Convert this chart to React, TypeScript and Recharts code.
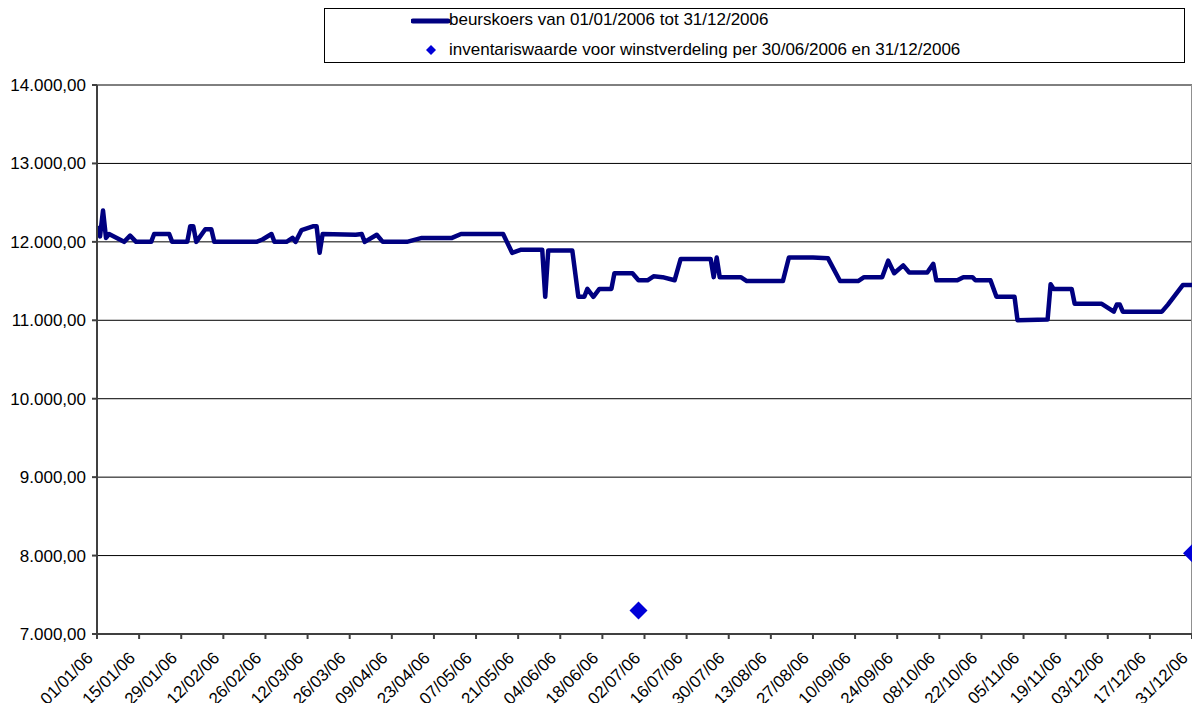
import React from "react";
import {
  CartesianGrid,
  ComposedChart,
  Legend,
  Line,
  ReferenceLine,
  Scatter,
  XAxis,
  YAxis,
} from "recharts";

// beurskoers (dd/mm of 2006)
const lineDates = [
  "01/01", "02/01", "03/01", "04/01", "05/01", "10/01", "12/01", "14/01", "19/01", "20/01",
  "25/01", "26/01", "31/01", "01/02", "02/02", "03/02", "06/02", "08/02", "09/02", "23/02",
  "25/02", "28/02", "01/03", "05/03", "07/03", "08/03", "10/03", "14/03", "15/03", "16/03",
  "17/03", "28/03", "30/03", "31/03", "04/04", "06/04", "14/04", "19/04", "29/04", "02/05",
  "16/05", "19/05", "22/05", "29/05", "30/05", "31/05", "08/06", "10/06", "12/06", "13/06",
  "15/06", "17/06", "21/06", "22/06", "28/06", "30/06", "03/07", "05/07", "08/07", "12/07",
  "14/07", "24/07", "25/07", "26/07", "27/07", "03/08", "05/08", "17/08", "19/08", "27/08",
  "01/09", "05/09", "11/09", "13/09", "19/09", "21/09", "23/09", "26/09", "28/09", "04/10",
  "06/10", "07/10", "14/10", "16/10", "19/10", "20/10", "25/10", "27/10", "02/11", "03/11",
  "13/11", "14/11", "15/11", "21/11", "22/11", "01/12", "05/12", "06/12", "07/12", "08/12",
  "21/12", "23/12", "28/12", "31/12",
];
const lineValues = [
  12200, 12070, 12400, 12050, 12100, 12000, 12080, 12000, 12000, 12100,
  12100, 12000, 12000, 12200, 12200, 12000, 12160, 12160, 12000, 12000,
  12030, 12100, 12000, 12000, 12050, 12000, 12150, 12200, 12200, 11860,
  12100, 12090, 12100, 12000, 12090, 12000, 12000, 12050, 12050, 12100,
  12100, 11860, 11900, 11900, 11300, 11890, 11890, 11300, 11300, 11400,
  11300, 11400, 11400, 11600, 11600, 11510, 11510, 11560, 11550, 11510,
  11780, 11780, 11550, 11800, 11550, 11550, 11500, 11500, 11800, 11800,
  11790, 11500, 11500, 11550, 11550, 11760, 11600, 11700, 11610, 11610,
  11720, 11510, 11510, 11550, 11550, 11510, 11510, 11300, 11300, 11000,
  11010, 11460, 11400, 11400, 11210, 11210, 11110, 11200, 11200, 11110,
  11110, 11200, 11450, 11450,
];

// inventariswaarde
const navDates = ["30/06", "31/12"];
const navValues = [7300, 8030];

const xTickLabels = [
  "01/01/06", "15/01/06", "29/01/06", "12/02/06", "26/02/06", "12/03/06", "26/03/06",
  "09/04/06", "23/04/06", "07/05/06", "21/05/06", "04/06/06", "18/06/06", "02/07/06",
  "16/07/06", "30/07/06", "13/08/06", "27/08/06", "10/09/06", "24/09/06", "08/10/06",
  "22/10/06", "05/11/06", "19/11/06", "03/12/06", "17/12/06", "31/12/06",
];
const yTicks = [7000, 8000, 9000, 10000, 11000, 12000, 13000, 14000];

const FONT = '"Liberation Sans", Arial, sans-serif';

const toDay = (s: string) => {
  const [d, m] = s.split("/").map(Number);
  return (Date.UTC(2006, m - 1, d) - Date.UTC(2006, 0, 1)) / 86400000;
};

const lineData = lineDates.map((d, i) => ({ day: toDay(d), value: lineValues[i] }));
const navData = navDates.map((d, i) => ({ day: toDay(d), value: navValues[i] }));
const xTicks = xTickLabels.map(toDay);

const fmtY = (v: number) =>
  `${Math.floor(v / 1000)}.${String(v % 1000).padStart(3, "0")},00`;

const XTick = (props: any) => {
  const { x, y, payload } = props;
  const i = xTicks.indexOf(payload.value);
  const ax = x - 3;
  const ay = y + 20;
  return (
    <text
      x={ax}
      y={ay}
      textAnchor="end"
      transform={`rotate(-45 ${ax} ${ay})`}
      fontSize={17}
      fontFamily={FONT}
      fill="#000"
    >
      {xTickLabels[i]}
    </text>
  );
};

const Diamond = (props: any) => {
  const { cx, cy } = props;
  const r = 9;
  return (
    <polygon
      points={`${cx},${cy - r} ${cx + r},${cy} ${cx},${cy + r} ${cx - r},${cy}`}
      fill="#0000D8"
    />
  );
};

const renderLegend = () => (
  <div
    style={{
      position: "relative",
      width: 861,
      height: 55,
      border: "1px solid #000",
      boxSizing: "border-box",
      background: "#fff",
      fontFamily: FONT,
      fontSize: 17,
      color: "#000",
    }}
  >
    <svg width={40} height={55} style={{ position: "absolute", left: 86, top: 0 }}>
      <line x1={2} y1={12} x2={37} y2={12} stroke="#000080" strokeWidth={5} strokeLinecap="round" />
      <polygon points="20,36 25,41 20,46 15,41" fill="#0000D8" />
    </svg>
    <div style={{ position: "absolute", left: 124, top: 1, whiteSpace: "nowrap" }}>
      beurskoers van 01/01/2006 tot 31/12/2006
    </div>
    <div style={{ position: "absolute", left: 124, top: 31, whiteSpace: "nowrap" }}>
      inventariswaarde voor winstverdeling per 30/06/2006 en 31/12/2006
    </div>
  </div>
);

export default function App() {
  return (
    <div style={{ margin: -8, width: 1200, height: 711, background: "#fff" }}>
      <ComposedChart
        width={1200}
        height={711}
        margin={{ top: 85, right: 8, bottom: 0, left: 0 }}
      >
        <CartesianGrid vertical={false} stroke="#000" strokeWidth={1} />
        <XAxis
          type="number"
          dataKey="day"
          domain={[0, 364]}
          ticks={xTicks}
          interval={0}
          height={77}
          tickSize={5}
          tickMargin={0}
          stroke="#404040"
          strokeWidth={2}
          tick={<XTick />}
          allowDataOverflow
        />
        <YAxis
          type="number"
          domain={[7000, 14000]}
          ticks={yTicks}
          width={97}
          tickSize={5}
          tickMargin={6}
          stroke="#404040"
          strokeWidth={2}
          tickFormatter={fmtY}
          tick={{ fontSize: 17, fontFamily: FONT, fill: "#000" }}
        />
        <ReferenceLine x={364} stroke="#909090" strokeWidth={2} />
        <Line
          data={lineData}
          dataKey="value"
          type="linear"
          stroke="#000080"
          strokeWidth={4.5}
          strokeLinejoin="round"
          dot={false}
          activeDot={false}
          isAnimationActive={false}
        />
        <Scatter
          data={navData}
          dataKey="value"
          shape={<Diamond />}
          isAnimationActive={false}
        />
        <Legend
          layout="horizontal"
          verticalAlign="middle"
          align="center"
          wrapperStyle={{ top: 8, left: 324, width: 861, height: 55 }}
          content={renderLegend}
        />
      </ComposedChart>
    </div>
  );
}
